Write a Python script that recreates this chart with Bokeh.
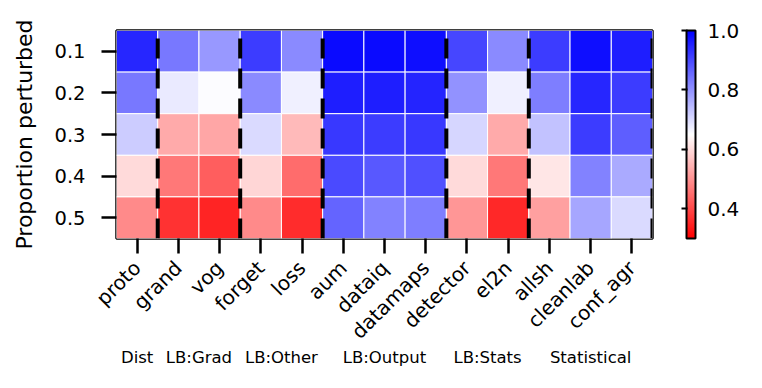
import numpy as np
from math import pi
from bokeh.plotting import figure
from bokeh.models import (Range1d, FixedTicker, LinearAxis, LinearColorMapper,
                          ColorBar, ColumnDataSource, PrintfTickFormatter)
from bokeh.embed import file_html
from bokeh.resources import INLINE

methods = ["proto", "grand", "vog", "forget", "loss", "aum", "dataiq", "datamaps",
           "detector", "el2n", "allsh", "cleanlab", "conf_agr"]
proportions = ["0.1", "0.2", "0.3", "0.4", "0.5"]
groups = ["Dist", "LB:Grad", "LB:Other", "LB:Output", "LB:Stats", "Statistical"]
group_sizes = [1, 2, 2, 3, 2, 3]
cbar_ticks = [0.4, 0.6, 0.8, 1.0]

# values per method for proportions 0.1 .. 0.5
proto    = [0.948, 0.835, 0.720, 0.600, 0.490]
grand    = [0.835, 0.678, 0.533, 0.465, 0.370]
vog      = [0.790, 0.655, 0.527, 0.430, 0.350]
forget   = [0.916, 0.810, 0.700, 0.594, 0.490]
loss     = [0.810, 0.671, 0.555, 0.450, 0.362]
aum      = [0.986, 0.958, 0.923, 0.897, 0.863]
dataiq   = [0.986, 0.958, 0.916, 0.877, 0.820]
datamaps = [0.980, 0.950, 0.923, 0.890, 0.826]
detector = [0.904, 0.800, 0.706, 0.600, 0.506]
el2n     = [0.810, 0.671, 0.533, 0.465, 0.356]
allsh    = [0.916, 0.826, 0.734, 0.615, 0.520]
cleanlab = [0.980, 0.948, 0.916, 0.820, 0.773]
conf_agr = [0.958, 0.916, 0.870, 0.767, 0.700]

columns = [proto, grand, vog, forget, loss, aum, dataiq, datamaps,
           detector, el2n, allsh, cleanlab, conf_agr]

vmin, vmax = 0.3, 1.0

# bwr_r colormap
palette = []
for t in np.linspace(0, 1, 256):
    if t < 0.5:
        r, g, b = 1.0, 2 * t, 2 * t
    else:
        r, g, b = 2 * (1 - t), 2 * (1 - t), 1.0
    palette.append("#%02x%02x%02x" % (int(round(r * 255)), int(round(g * 255)), int(round(b * 255))))
mapper = LinearColorMapper(palette=palette, low=vmin, high=vmax)

xs, ys, vs = [], [], []
for i, col in enumerate(columns):
    for j, v in enumerate(col):
        xs.append(i + 0.5)
        ys.append(j + 0.5)
        vs.append(v)
src = ColumnDataSource(dict(x=xs, y=ys, v=vs))

FONT = "DejaVu Sans"

p = figure(width=746, height=372, output_backend="svg", toolbar_location=None,
           x_range=Range1d(0, len(methods)), y_range=Range1d(len(proportions), 0),
           min_border_left=116, min_border_right=94, min_border_top=30,
           min_border_bottom=134, x_axis_location="below")
p.grid.visible = False
p.background_fill_color = "white"
p.outline_line_color = "black"
p.outline_line_width = 2.5

p.rect(x="x", y="y", width=1, height=1, source=src,
       fill_color={"field": "v", "transform": mapper},
       line_color="white", line_width=1)

# group boundaries
bounds = list(np.cumsum(group_sizes))
p.segment(x0=bounds, y0=[len(proportions)] * len(bounds), x1=bounds,
          y1=[0] * len(bounds), line_color="black", line_width=4, line_dash="20 10")

# x axis
xa = p.xaxis[0]
xa.ticker = FixedTicker(ticks=[i + 0.5 for i in range(len(methods))])
xa.major_label_overrides = {i + 0.5: m for i, m in enumerate(methods)}
xa.major_label_orientation = pi / 4
xa.axis_line_color = None
xa.minor_tick_line_color = None
xa.major_tick_line_color = "black"
xa.major_tick_line_width = 2.5
xa.major_tick_out = 15
xa.major_tick_in = 0
xa.major_label_text_font = FONT
xa.major_label_text_font_size = "20px"
xa.major_label_text_color = "black"
xa.major_label_standoff = 11

# y axis
ya = p.yaxis[0]
ya.ticker = FixedTicker(ticks=[j + 0.5 for j in range(len(proportions))])
ya.major_label_overrides = {j + 0.5: s for j, s in enumerate(proportions)}
ya.axis_line_color = None
ya.minor_tick_line_color = None
ya.major_tick_line_color = "black"
ya.major_tick_line_width = 2.5
ya.major_tick_out = 15
ya.major_tick_in = 0
ya.major_label_text_font = FONT
ya.major_label_text_font_size = "19.5px"
ya.major_label_text_color = "black"
ya.major_label_standoff = 16
ya.axis_label = "Proportion perturbed"
ya.axis_label_text_font = FONT
ya.axis_label_text_font_size = "22px"
ya.axis_label_text_font_style = "normal"
ya.axis_label_text_color = "black"
ya.axis_label_standoff = 14

# group labels axis
centers = []
start = 0
for s in group_sizes:
    centers.append(start + s / 2)
    start += s
ga = LinearAxis(ticker=FixedTicker(ticks=centers),
                major_label_overrides={c: g for c, g in zip(centers, groups)})
ga.axis_line_color = None
ga.major_tick_line_color = None
ga.minor_tick_line_color = None
ga.major_label_text_font = FONT
ga.major_label_text_font_size = "16.5px"
ga.major_label_text_color = "black"
ga.major_label_standoff = -14
p.add_layout(ga, "below")

cb = ColorBar(color_mapper=mapper, ticker=FixedTicker(ticks=cbar_ticks),
              formatter=PrintfTickFormatter(format="%.1f"),
              width=9, height=208, location=(34, 0), padding=0,
              bar_line_color="black", bar_line_width=2,
              major_tick_out=0, major_tick_in=0, label_standoff=12,
              major_label_text_font=FONT, major_label_text_font_size="20px",
              major_label_text_color="black",
              background_fill_alpha=0, border_line_color=None)
p.add_layout(cb, "right")

# tick marks on the left side of the colour bar
cb_ticks = ColorBar(color_mapper=mapper, ticker=FixedTicker(ticks=cbar_ticks),
                    formatter=PrintfTickFormatter(format="%.1f"),
                    width=1, height=208, location=(536 + 28, 0), padding=0,
                    scale_alpha=0, bar_line_color=None,
                    major_tick_out=6, major_tick_in=0, major_tick_line_width=2,
                    major_tick_line_color="black", minor_tick_line_color=None,
                    major_label_text_alpha=0, major_label_text_font_size="1px",
                    background_fill_alpha=0, border_line_color=None)
p.add_layout(cb_ticks, "center")

open("out.html", "w").write(file_html(p, INLINE))
